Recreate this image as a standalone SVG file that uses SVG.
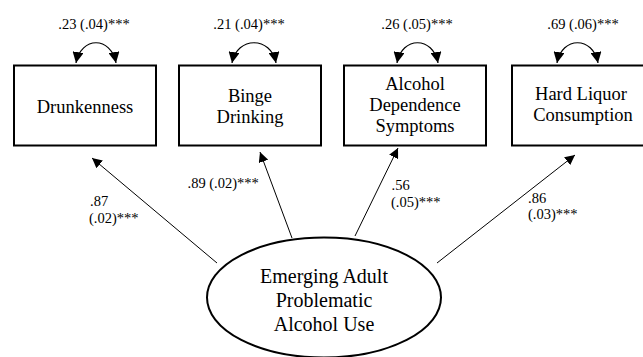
<svg xmlns="http://www.w3.org/2000/svg" width="643" height="357" viewBox="0 0 643 357">
<defs>
<style>
.box{fill:#fff;stroke:#000;stroke-width:2}
.ell{fill:#fff;stroke:#000;stroke-width:2}
text{font-family:'Liberation Serif','Times New Roman',Times,'DejaVu Serif','Noto Serif',Tinos,FreeSerif,'Nimbus Roman','Nimbus Roman No9 L',serif;fill:#000}
.bt{font-size:18.5px;text-anchor:middle}
.et{font-size:20px;text-anchor:middle}
.lb{font-size:14.5px}
.c{fill:none;stroke:#000;stroke-width:1}
.loop{fill:none;stroke:#000;stroke-width:1.2}
</style>
<marker id="ah" viewBox="0 0 10 10" refX="10" refY="5" markerWidth="10" markerHeight="10" markerUnits="userSpaceOnUse" orient="auto-start-reverse">
<path d="M0,0 L10,5 L0,10 Z" fill="#000"/>
</marker>
<marker id="ah2" viewBox="0 0 10 10" refX="10" refY="5" markerWidth="11" markerHeight="11" markerUnits="userSpaceOnUse" orient="auto-start-reverse">
<path d="M0,0 L10,5 L0,10 Z" fill="#000"/>
</marker>
</defs>
<rect width="643" height="357" fill="#fff"/>

<g id="connectors">
<line class="c" x1="217" y1="263" x2="92" y2="158" marker-end="url(#ah)"/>
<line class="c" x1="292" y1="238" x2="260" y2="152" marker-end="url(#ah)"/>
<line class="c" x1="355" y1="236" x2="398" y2="148" marker-end="url(#ah)"/>
<line class="c" x1="437" y1="263" x2="575" y2="155" marker-end="url(#ah)"/>
<path class="loop" d="M76,63 C81,36 111,36 116,63" marker-start="url(#ah2)" marker-end="url(#ah2)"/>
<path class="loop" d="M232,63 C237,36 271,36 276,63" marker-start="url(#ah2)" marker-end="url(#ah2)"/>
<path class="loop" d="M397,63 C402,36 433,36 438,63" marker-start="url(#ah2)" marker-end="url(#ah2)"/>
<path class="loop" d="M557,63 C562,36 593,36 598,63" marker-start="url(#ah2)" marker-end="url(#ah2)"/>
</g>

<g id="labels">
<text class="lb" x="94" y="29" text-anchor="middle">.23 (.04)***</text>
<text class="lb" x="249" y="29" text-anchor="middle">.21 (.04)***</text>
<text class="lb" x="417" y="29" text-anchor="middle">.26 (.05)***</text>
<text class="lb" x="583" y="29" text-anchor="middle">.69 (.06)***</text>
<text class="lb" x="90" y="206">.87</text>
<text class="lb" x="89" y="223">(.02)***</text>
<text class="lb" x="187.5" y="188">.89 (.02)***</text>
<text class="lb" x="391.5" y="190">.56</text>
<text class="lb" x="391" y="207">(.05)***</text>
<text class="lb" x="528" y="202.5">.86</text>
<text class="lb" x="528" y="219">(.03)***</text>
</g>

<g id="drunkenness">
<rect class="box" x="14" y="65.5" width="142" height="80"/>
<text class="bt" x="85" y="113">Drunkenness</text>
</g>
<g id="binge">
<rect class="box" x="179" y="65.5" width="142" height="80"/>
<text class="bt" x="250" y="101.5">Binge</text>
<text class="bt" x="250" y="123">Drinking</text>
</g>
<g id="dependence">
<rect class="box" x="344" y="65.5" width="142" height="80"/>
<text class="bt" x="415" y="89.5">Alcohol</text>
<text class="bt" x="415" y="110.5">Dependence</text>
<text class="bt" x="415" y="131.5">Symptoms</text>
</g>
<g id="liquor">
<rect class="box" x="512" y="65.5" width="142" height="80"/>
<text class="bt" x="581" y="100">Hard Liquor</text>
<text class="bt" x="583" y="121">Consumption</text>
</g>
<g id="latent">
<ellipse class="ell" cx="324" cy="297.5" rx="117" ry="60"/>
<text class="et" x="324" y="283">Emerging Adult</text>
<text class="et" x="324" y="307">Problematic</text>
<text class="et" x="324" y="330.5">Alcohol Use</text>
</g>
</svg>
